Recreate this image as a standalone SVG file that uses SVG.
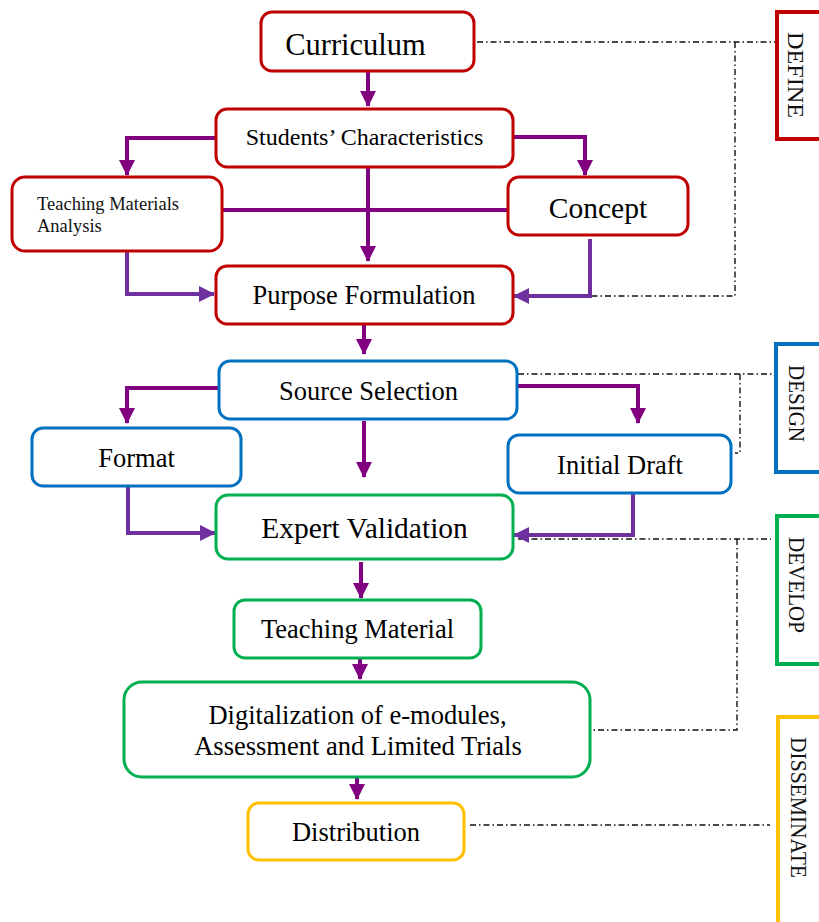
<svg xmlns="http://www.w3.org/2000/svg" width="819" height="922" viewBox="0 0 819 922">
<style>
.box{fill:#fff;stroke-width:3}
.red{stroke:#C00000}.blue{stroke:#0070C0}.green{stroke:#00B050}.yel{stroke:#FFC000}
.side{fill:none;stroke-width:4}
.t{font-family:"Liberation Serif","Times New Roman",serif;fill:#000;text-anchor:middle}
.s{font-family:"Liberation Serif","Times New Roman",serif;fill:#111}
.c1{fill:none;stroke:#800080;stroke-width:4;marker-end:url(#a1)}
.c2{fill:none;stroke:#7030A0;stroke-width:4;marker-end:url(#a2)}
.c0{fill:none;stroke:#800080;stroke-width:4}
.dd{fill:none;stroke:#111;stroke-width:1.4;stroke-dasharray:6 3 1.5 3}
</style>
<defs>
<marker id="a1" markerUnits="userSpaceOnUse" markerWidth="16" markerHeight="16" refX="15" refY="8" orient="auto"><path d="M0,0 L16,8 L0,16 z" fill="#800080"/></marker>
<marker id="a2" markerUnits="userSpaceOnUse" markerWidth="16" markerHeight="16" refX="15" refY="8" orient="auto"><path d="M0,0 L16,8 L0,16 z" fill="#7030A0"/></marker>
</defs>
<rect width="819" height="922" fill="#fff"/>

<g id="connectors">
<path class="dd" d="M477,42 H775 M735,42 V296 H518"/>
<path class="dd" d="M518,374 H773 M740,374 V453 H735"/>
<path class="dd" d="M518,539 H771 M737,539 V730 H593"/>
<path class="dd" d="M470,825 H770"/>
<path class="c1" d="M368,70 V106"/>
<path class="c1" d="M216,138 H127 V175"/>
<path class="c1" d="M512,137 H585 V175"/>
<path class="c0" d="M223,210 H508"/>
<path class="c1" d="M368,167 V261"/>
<path class="c2" d="M127,235 V294 H214"/>
<path class="c2" d="M590,239 V296 H514"/>
<path class="c1" d="M364,324 V354"/>
<path class="c1" d="M219,388 H127 V423"/>
<path class="c1" d="M517,386 H638 V423"/>
<path class="c1" d="M364,421 V477"/>
<path class="c2" d="M128,486 V533 H215"/>
<path class="c2" d="M633,493 V535 H514"/>
<path class="c1" d="M361,562 V598"/>
<path class="c1" d="M360,658 V679"/>
<path class="c1" d="M357,777 V799"/>
</g>

<g id="curriculum"><rect class="box red" x="261" y="12" width="213" height="59" rx="11"/><text class="t" x="355.5" y="55" font-size="30.5">Curriculum</text></g>
<g id="students"><rect class="box red" x="216" y="109" width="297" height="58" rx="11"/><text class="t" x="364.5" y="145" font-size="24">Students’ Characteristics</text></g>
<g id="tma"><rect class="box red" x="12" y="177" width="210" height="74" rx="13"/><text class="s" x="37" y="210" font-size="18.5">Teaching Materials</text><text class="s" x="37" y="232" font-size="18.5">Analysis</text></g>
<g id="concept"><rect class="box red" x="508" y="177" width="180" height="58" rx="11"/><text class="t" x="598" y="218" font-size="29.5">Concept</text></g>
<g id="purpose"><rect class="box red" x="216" y="266" width="297" height="58" rx="11"/><text class="t" x="364" y="304" font-size="26.5">Purpose Formulation</text></g>
<g id="source"><rect class="box blue" x="219" y="361" width="298" height="58" rx="11"/><text class="t" x="368.5" y="400" font-size="26.5">Source Selection</text></g>
<g id="format"><rect class="box blue" x="32" y="428" width="209" height="58" rx="11"/><text class="t" x="136.5" y="467" font-size="26.5">Format</text></g>
<g id="draft"><rect class="box blue" x="508" y="435" width="223" height="58" rx="11"/><text class="t" x="620" y="474" font-size="26.5">Initial Draft</text></g>
<g id="expert"><rect class="box green" x="216" y="495" width="297" height="64" rx="12"/><text class="t" x="364.5" y="538" font-size="29.5">Expert Validation</text></g>
<g id="teaching"><rect class="box green" x="234" y="600" width="247" height="58" rx="11"/><text class="t" x="357.5" y="638" font-size="26.5">Teaching Material</text></g>
<g id="digital"><rect class="box green" x="124" y="682" width="466" height="95" rx="18"/><text class="t" x="357.5" y="724" font-size="26.5">Digitalization of e-modules,</text><text class="t" x="358" y="755" font-size="26.5">Assessment and Limited Trials</text></g>
<g id="distribution"><rect class="box yel" x="248" y="803" width="216" height="57" rx="11"/><text class="t" x="356" y="841" font-size="26.5">Distribution</text></g>

<g id="define"><path class="side red" d="M830,12 H777 V139 H830"/><text class="s" font-size="24" transform="translate(788,32) rotate(90)" textLength="86" lengthAdjust="spacingAndGlyphs">DEFINE</text></g>
<g id="design"><path class="side blue" d="M830,344 H776 V472 H830"/><text class="s" font-size="24" transform="translate(789,365) rotate(90)" textLength="77" lengthAdjust="spacingAndGlyphs">DESIGN</text></g>
<g id="develop"><path class="side green" d="M830,516 H777 V664 H830"/><text class="s" font-size="24" transform="translate(789,537) rotate(90)" textLength="96" lengthAdjust="spacingAndGlyphs">DEVELOP</text></g>
<g id="disseminate"><path class="side yel" d="M830,717 H778 V930"/><text class="s" font-size="24" transform="translate(791,737) rotate(90)" textLength="141" lengthAdjust="spacingAndGlyphs">DISSEMINATE</text></g>
</svg>
